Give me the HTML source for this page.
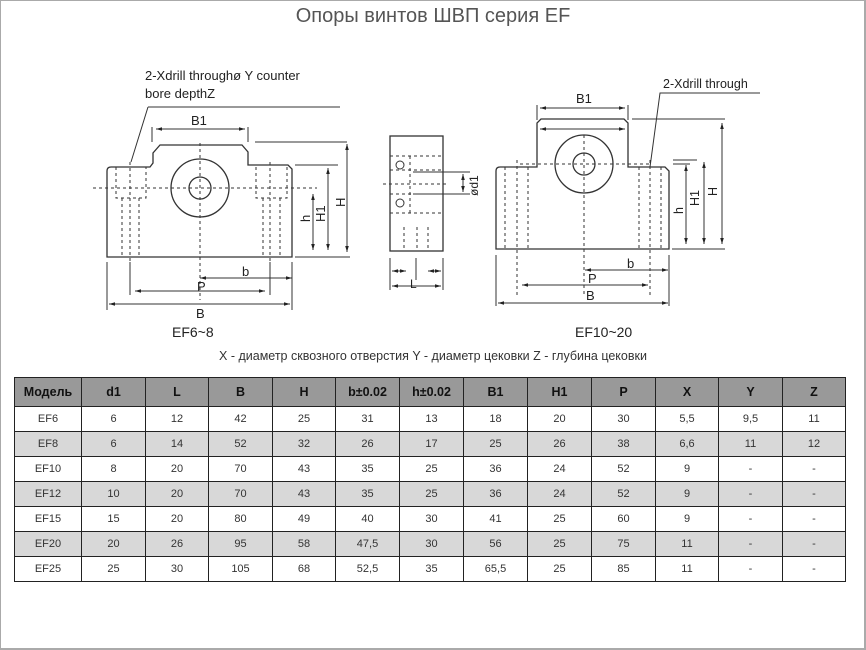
<!DOCTYPE html>
<html><head><meta charset="utf-8"><style>
html,body{margin:0;padding:0;background:#fff}
#p{position:relative;width:866px;height:650px;overflow:hidden}
#frame{position:absolute;left:0;top:0;width:863px;height:647px;border:1px solid #aaa;border-right-width:2px;border-bottom-width:2px}
#title{position:absolute;left:0;width:866px;top:5px;text-align:center;font:20px "Liberation Sans",sans-serif;color:#555}
#cap{position:absolute;left:0;width:866px;top:349px;text-align:center;font:12.5px "Liberation Sans",sans-serif;color:#333}
table{position:absolute;left:14px;top:377px;border-collapse:collapse;font:11px "Liberation Sans",sans-serif;color:#333}
td{border:1px solid #222;text-align:center;padding:0;height:24px}
tr.h td{background:#999;color:#111;font-size:12.5px;font-weight:bold;height:28px}
tr.g td{background:#d8d8d8}
svg{position:absolute;left:0;top:0}
</style></head><body><div id="p">
<div id="frame"></div>
<div id="title">Опоры винтов ШВП серия EF</div>
<svg width="866" height="350" font-family="Liberation Sans, sans-serif" fill="none" stroke="#333" stroke-width="1.3">
<defs><marker id="a" viewBox="0 0 10 10" refX="10" refY="5" markerWidth="6" markerHeight="6" orient="auto-start-reverse"><path d="M0,2 L10,5 L0,8z" fill="#222" stroke="none"/></marker></defs>
<!-- left view -->
<path d="M107,171 Q107,167 111,167 L150,167 L153,163 L153,153 L160,145 L242,145 L248,152 L248,165 L288,165 L292,169 L292,257 L107,257 Z"/>
<circle cx="200" cy="188" r="29"/><circle cx="200" cy="188" r="11"/>
<g stroke-dasharray="3,3" stroke-width="1">
<path d="M93,188H317M200,143V300M116,167V198H146V167M122,198V257M139,198V257M130,162V295M256,167V198H287V167M263,198V257M280,198V257M270,162V295"/>
</g>
<path d="M148,107L131,162M148,107H340" stroke-width="1"/>
<g fill="#222" stroke="none" font-size="13"><text x="145" y="80">2-Xdrill throughø Y counter</text><text x="145" y="98">bore depthZ</text>
<text x="191" y="125">B1</text><text x="242" y="276">b</text><text x="197" y="291">P</text><text x="196" y="318">B</text><text x="172" y="337" font-size="14">EF6~8</text>
<text transform="translate(310,222) rotate(-90)">h</text><text transform="translate(325,222) rotate(-90)">H1</text><text transform="translate(345,207) rotate(-90)">H</text></g>
<g stroke-width="1">
<path d="M152,127V142M248,127V142M255,142H347M295,165H338M295,257H350M107,262V310M292,262V310M130,262V295M270,262V295"/>
<g marker-start="url(#a)" marker-end="url(#a)">
<path d="M156,129H245"/><path d="M313,194V250"/><path d="M328,168V250"/><path d="M347,144V252"/><path d="M200,278H292"/><path d="M135,291H265"/><path d="M109,304H290"/>
</g></g>
<!-- side view -->
<rect x="390" y="136" width="53" height="115"/>
<g stroke-dasharray="3,3" stroke-width="1"><path d="M390,156H443M390,170H443M390,194H443M390,213H443M383,184H447M404,227V251M417,227V251M428,227V251M410,156V213"/></g>
<circle cx="400" cy="165" r="4" stroke-width="1"/><circle cx="400" cy="203" r="4" stroke-width="1"/>
<g stroke-width="1"><path d="M413,172H470M413,194H470M390,258V290M443,258V290M416,258V280"/>
<g marker-start="url(#a)" marker-end="url(#a)"><path d="M463,174V192"/><path d="M392,271H406"/><path d="M441,271H428"/><path d="M392,286H441"/></g></g>
<g fill="#222" stroke="none" font-size="12"><text transform="translate(478,196) rotate(-90)">ød1</text><text x="410" y="288">L</text></g>
<!-- right view -->
<path d="M496,171 Q496,167 500,167 L537,167 L537,123 L541,119 L624,119 L628,123 L628,167 L665,167 L669,171 L669,249 L496,249 Z"/>
<circle cx="584" cy="164" r="29"/><circle cx="584" cy="164" r="11"/>
<g stroke-dasharray="3,3" stroke-width="1"><path d="M505,167V249M517,160V295M528,167V249M639,167V249M650,160V295M661,167V249M584,135V295M520,164H650"/></g>
<path d="M650,167L660,93H760" stroke-width="1"/>
<g fill="#222" stroke="none" font-size="12.5"><text x="663" y="88">2-Xdrill through</text>
<text x="576" y="103" font-size="13">B1</text><text x="627" y="268" font-size="13">b</text><text x="588" y="283" font-size="13">P</text><text x="586" y="300" font-size="13">B</text><text x="575" y="337" font-size="14">EF10~20</text>
<text transform="translate(683,214) rotate(-90)">h</text><text transform="translate(699,206) rotate(-90)">H1</text><text transform="translate(717,196) rotate(-90)">H</text></g>
<g stroke-width="1"><path d="M537,105V120M628,105V120M632,119H725M673,160H697M673,164H690M672,249H725M496,255V306M669,255V306"/>
<g marker-start="url(#a)" marker-end="url(#a)"><path d="M540,108H625"/><path d="M540,129H625"/><path d="M686,165V244"/><path d="M704,162V244"/><path d="M722,123V244"/><path d="M585,270H668"/><path d="M522,285H648"/><path d="M498,303H668"/></g></g>
</svg>
<div id="cap">X - диаметр сквозного отверстия Y - диаметр цековки Z - глубина цековки</div>
<table>
<colgroup><col style="width:67px"><col style="width:64px"><col style="width:63px"><col style="width:64px"><col style="width:63px"><col style="width:64px"><col style="width:64px"><col style="width:64px"><col style="width:64px"><col style="width:64px"><col style="width:63px"><col style="width:64px"><col style="width:63px"></colgroup>
<tr class="h"><td>Модель</td><td>d1</td><td>L</td><td>B</td><td>H</td><td>b±0.02</td><td>h±0.02</td><td>B1</td><td>H1</td><td>P</td><td>X</td><td>Y</td><td>Z</td></tr>
<tr><td>EF6</td><td>6</td><td>12</td><td>42</td><td>25</td><td>31</td><td>13</td><td>18</td><td>20</td><td>30</td><td>5,5</td><td>9,5</td><td>11</td></tr>
<tr class="g"><td>EF8</td><td>6</td><td>14</td><td>52</td><td>32</td><td>26</td><td>17</td><td>25</td><td>26</td><td>38</td><td>6,6</td><td>11</td><td>12</td></tr>
<tr><td>EF10</td><td>8</td><td>20</td><td>70</td><td>43</td><td>35</td><td>25</td><td>36</td><td>24</td><td>52</td><td>9</td><td>-</td><td>-</td></tr>
<tr class="g"><td>EF12</td><td>10</td><td>20</td><td>70</td><td>43</td><td>35</td><td>25</td><td>36</td><td>24</td><td>52</td><td>9</td><td>-</td><td>-</td></tr>
<tr><td>EF15</td><td>15</td><td>20</td><td>80</td><td>49</td><td>40</td><td>30</td><td>41</td><td>25</td><td>60</td><td>9</td><td>-</td><td>-</td></tr>
<tr class="g"><td>EF20</td><td>20</td><td>26</td><td>95</td><td>58</td><td>47,5</td><td>30</td><td>56</td><td>25</td><td>75</td><td>11</td><td>-</td><td>-</td></tr>
<tr><td>EF25</td><td>25</td><td>30</td><td>105</td><td>68</td><td>52,5</td><td>35</td><td>65,5</td><td>25</td><td>85</td><td>11</td><td>-</td><td>-</td></tr>
</table>
</div></body></html>
